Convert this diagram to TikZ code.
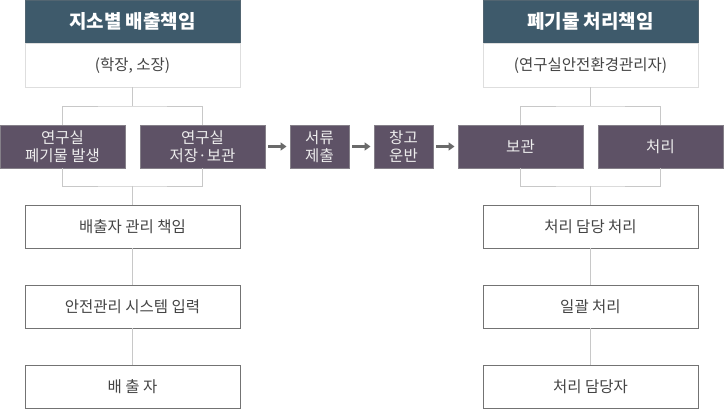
\documentclass[tikz,border=0pt]{standalone}
\usepackage{fontspec}
\setmainfont{Noto Sans CJK KR}
\usetikzlibrary{arrows.meta}
\definecolor{hdr}{HTML}{3E5A6B}
\definecolor{pur}{HTML}{5E5266}
\definecolor{pbd}{HTML}{858089}
\definecolor{txt}{HTML}{444444}
\definecolor{conn}{HTML}{C8C8C8}
\definecolor{arr}{HTML}{6A6A6A}
\tikzset{
  hdrbox/.style={draw=hdr!70!gray, fill=hdr, text=white, minimum width=215pt, minimum height=43pt, inner sep=0pt, font=\fontsize{19}{22}\selectfont\bfseries},
  subbox/.style={draw=black!13, fill=white, text=txt, minimum width=215pt, minimum height=44pt, inner sep=0pt, font=\fontsize{15.5}{18}\selectfont},
  purbox/.style={draw=pbd, line width=0.9pt, fill=pur, text=white!93!black, minimum width=125pt, minimum height=43pt, inner sep=0pt, align=center, font=\fontsize{15.5}{18}\selectfont},
  smallbox/.style={purbox, minimum width=59pt},
  lowbox/.style={draw=black!55, line width=0.9pt, fill=white, text=txt, minimum width=215pt, minimum height=43pt, inner sep=0pt, font=\fontsize{15.5}{18}\selectfont},
  connline/.style={draw=conn, line width=0.9pt},
  flowarrow/.style={draw=arr, line width=2.4pt, -{Triangle[length=6pt,width=8pt]}, shorten <=3pt, shorten >=3pt}
}
\begin{document}
\begin{tikzpicture}[x=1pt,y=-1pt]
\useasboundingbox (0,0) rectangle (724,409);
% left column
\node[hdrbox] (h1) at (132.5,21.5) {지소별 배출책임};
\node[subbox] (s1) at (132.5,65.3) {(학장, 소장)};
\node[purbox] (b1) at (62.5,146.5) {연구실\\폐기물 발생};
\node[purbox] (b2) at (202.5,146.5) {연구실\\저장·보관};
\node[smallbox] (b3) at (319.5,146.5) {서류\\제출};
\node[smallbox] (b4) at (403.5,146.5) {창고\\운반};
\node[purbox] (b5) at (520.5,146.5) {보관};
\node[purbox] (b6) at (660.5,146.5) {처리};
% right column
\node[hdrbox] (h2) at (590.5,21.5) {폐기물 처리책임};
\node[subbox] (s2) at (590.5,65.3) {(연구실안전환경관리자)};
% lower boxes
\node[lowbox] (l1) at (132.5,226.5) {배출자 관리 책임};
\node[lowbox] (l2) at (132.5,306.5) {안전관리 시스템 입력};
\node[lowbox] (l3) at (132.5,386.5) {배 출 자};
\node[lowbox] (r1) at (590.5,226.5) {처리 담당 처리};
\node[lowbox] (r2) at (590.5,306.5) {일괄 처리};
\node[lowbox] (r3) at (590.5,386.5) {처리 담당자};
% junctions
\coordinate (j1) at (132.5,106);
\coordinate (j2) at (132.5,186);
\coordinate (k1) at (590.5,106);
\coordinate (k2) at (590.5,186);
\draw[connline] (s1.south) -- (j1);
\draw[connline] (b1.north) |- (j1) -| (b2.north);
\draw[connline] (b1.south) |- (j2) -| (b2.south);
\draw[connline] (j2) -- (l1.north);
\draw[connline] (l1.south) -- (l2.north);
\draw[connline] (l2.south) -- (l3.north);
\draw[connline] (s2.south) -- (k1);
\draw[connline] (b5.north) |- (k1) -| (b6.north);
\draw[connline] (b5.south) |- (k2) -| (b6.south);
\draw[connline] (k2) -- (r1.north);
\draw[connline] (r1.south) -- (r2.north);
\draw[connline] (r2.south) -- (r3.north);
\draw[flowarrow] (b2.east) -- (b3.west);
\draw[flowarrow] (b3.east) -- (b4.west);
\draw[flowarrow] (b4.east) -- (b5.west);
\end{tikzpicture}
\end{document}
